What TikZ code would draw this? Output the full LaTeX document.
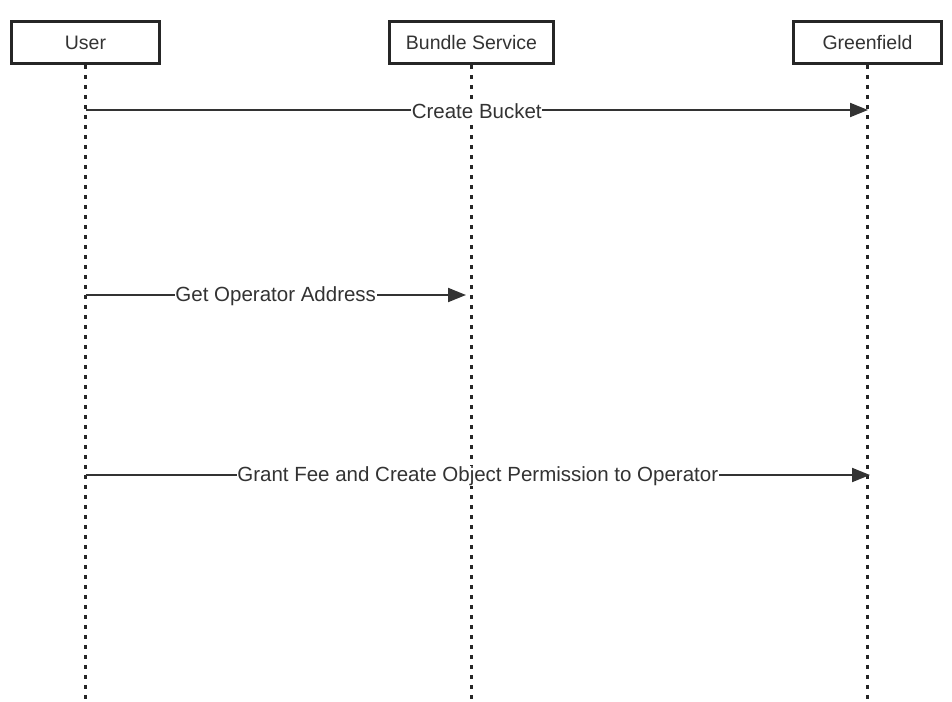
\documentclass[tikz,border=0pt]{standalone}
\usepackage{fontspec}
\setmainfont{Liberation Sans}
\usetikzlibrary{arrows.meta}
\begin{document}
\begin{tikzpicture}[x=1pt,y=-1pt]
    \tikzset{actor/.style = {draw=black!85, line width=2.6pt, minimum height=42pt, inner sep=0pt, font=\fontsize{19.5}{22}\selectfont, text=black!80}}
    \tikzset{lifeline/.style = {draw=black!85, line width=2.6pt, dash pattern=on 4pt off 6pt}}
    \tikzset{msg/.style = {draw=black!80, line width=2pt, -{Triangle[length=18pt,width=14pt]}}}
    \tikzset{label/.style = {fill=white, inner sep=0.5pt, yshift=-1pt, font=\fontsize{20.5}{23}\selectfont, text=black!80}}
    \useasboundingbox (0,0) rectangle (952,701);
    % participants
    \node[actor, minimum width=148pt] (user) at (85.5,42.5) {User};
    \node[actor, minimum width=164pt] (bundle) at (471.5,42.5) {Bundle Service};
    \node[actor, minimum width=148pt] (gnfd) at (867.5,42.5) {Greenfield};
    \coordinate (userend) at (85.5,701);
    \coordinate (bundleend) at (471.5,701);
    \coordinate (gnfdend) at (867.5,701);
    \draw[lifeline] (user.south) -- (userend);
    \draw[lifeline] (bundle.south) -- (bundleend);
    \draw[lifeline] (gnfd.south) -- (gnfdend);
    % messages
    \coordinate (u1) at (85.5,110);
    \coordinate (g1) at (868,110);
    \coordinate (u2) at (85.5,295);
    \coordinate (b2) at (466,295);
    \coordinate (u3) at (85.5,475);
    \coordinate (g3) at (870,475);
    \draw[msg] (u1) -- node[label] {Create Bucket} (g1);
    \draw[msg] (u2) -- node[label] {Get Operator Address} (b2);
    \draw[msg] (u3) -- node[label] {Grant Fee and Create Object Permission to Operator} (g3);
\end{tikzpicture}
\end{document}
